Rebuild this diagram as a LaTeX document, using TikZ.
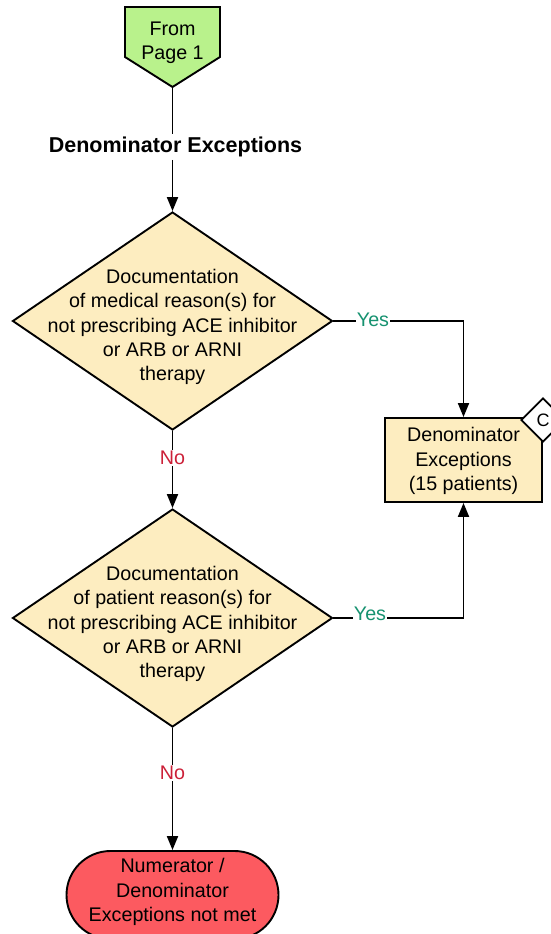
\documentclass[tikz,border=0pt]{standalone}
\usepackage{fontspec}
\setmainfont{Liberation Sans}
\usetikzlibrary{shapes.geometric,shapes.misc,arrows.meta}
\definecolor{pgreen}{RGB}{185,242,140}
\definecolor{pyellow}{RGB}{253,237,192}
\definecolor{pred}{RGB}{252,90,96}
\definecolor{yescol}{RGB}{22,146,112}
\definecolor{nocol}{RGB}{204,32,56}
\begin{document}
\begin{tikzpicture}[x=1pt,y=-1pt,
  line width=1.9pt,
  txt/.style={font=\fontsize{19.7}{24.2}\selectfont, align=center, inner sep=0pt},
  lbl/.style={font=\fontsize{19.7}{22}\selectfont, inner sep=1pt, fill=white},
  yeslbl/.style={lbl, text=yescol},
  nolbl/.style={lbl, text=nocol},
  arr/.style={-{Triangle[length=14pt,width=11pt]}},
  decision/.style={diamond, draw, fill=pyellow, minimum width=320pt, minimum height=218pt, inner sep=0pt},
  procbox/.style={rectangle, draw, fill=pyellow, minimum width=157pt, minimum height=84pt, inner sep=0pt},
  term/.style={rounded rectangle, draw, fill=pred, minimum width=212pt, minimum height=88pt, inner sep=0pt},
  conn/.style={diamond, draw, fill=white, minimum width=44pt, minimum height=44pt, inner sep=0pt, font=\fontsize{18}{20}\selectfont}
]
\useasboundingbox (0,0) rectangle (551,934);
% off-page connector
\coordinate (p1) at (125,7);
\coordinate (p2) at (220,7);
\coordinate (p3) at (220,57);
\coordinate (ptip) at (172.5,87);
\coordinate (p5) at (125,57);
\draw[fill=pgreen] (p1) -- (p2) -- (p3) -- (ptip) -- (p5) -- cycle;
\node[txt] (from) at (172.5,43) {From\\Page 1};
% heading
\node[font=\fontsize{21.5}{24}\selectfont\bfseries, inner sep=2pt, fill=white] (head) at (175.5,147) {Denominator Exceptions};
% decisions
\node[decision] (d1) at (172.5,321) {};
\node[txt] (t1) at (172.5,327) {Documentation\\of medical reason(s) for\\not prescribing ACE inhibitor\\or ARB or ARNI\\therapy};
\node[decision] (d2) at (172.5,618) {};
\node[txt] (t2) at (172.5,624) {Documentation\\of patient reason(s) for\\not prescribing ACE inhibitor\\or ARB or ARNI\\therapy};
% box
\node[procbox] (box) at (463.5,460) {};
\node[txt] (tb) at (463.5,461) {Denominator\\Exceptions\\(15 patients)};
\node[conn] (c) at (543,420) {C};
% terminal
\node[term] (end) at (172.5,895) {};
\node[txt] (te) at (172.5,892) {Numerator /\\Denominator\\Exceptions not met};
% connectors
\draw (ptip) -- (ptip |- head.north);
\draw[arr] (ptip |- head.south) -- (d1.north);
\coordinate (r1) at (463.5,321);
\draw[arr] (d1.east) -- (r1) -- (box.north);
\node[yeslbl] (y1) at (373,320) {Yes};
\draw[arr] (d1.south) -- (d2.north);
\node[nolbl] (n1) at (172.5,458) {No};
\coordinate (r2) at (463.5,618);
\draw[arr] (d2.east) -- (r2) -- (box.south);
\node[yeslbl] (y2) at (370,614) {Yes};
\draw[arr] (d2.south) -- (d2.south |- end.north);
\node[nolbl] (n2) at (172.5,773) {No};
\end{tikzpicture}
\end{document}
